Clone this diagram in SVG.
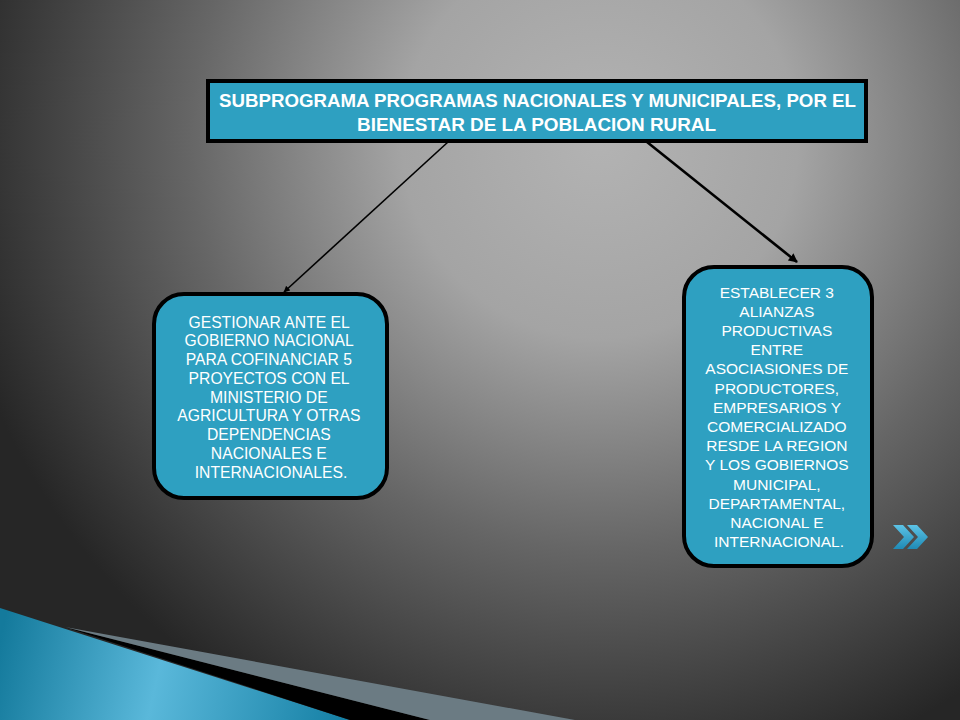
<svg xmlns="http://www.w3.org/2000/svg" width="960" height="720" viewBox="0 0 960 720">
<defs>
<radialGradient id="bg" gradientUnits="userSpaceOnUse" cx="600" cy="140" r="660">
<stop offset="0" stop-color="#b3b3b3"/>
<stop offset="0.3" stop-color="#a4a4a4"/>
<stop offset="0.62" stop-color="#666666"/>
<stop offset="1" stop-color="#262626"/>
</radialGradient>
<linearGradient id="blue" gradientUnits="userSpaceOnUse" x1="0" y1="640" x2="350" y2="720">
<stop offset="0" stop-color="#147a9c"/>
<stop offset="0.45" stop-color="#5ab8da"/>
<stop offset="1" stop-color="#137ea3"/>
</linearGradient>
<linearGradient id="chev" x1="0" y1="0" x2="0" y2="1">
<stop offset="0" stop-color="#5cc3e6"/>
<stop offset="1" stop-color="#1f8ab5"/>
</linearGradient>
<marker id="ah" viewBox="0 0 10 10" refX="9" refY="5" markerWidth="4" markerHeight="4" orient="auto" markerUnits="strokeWidth">
<path d="M0,0 L10,5 L0,10 z" fill="#000"/>
</marker>
<marker id="ah2" viewBox="0 0 10 10" refX="9" refY="5" markerWidth="3.5" markerHeight="3.5" orient="auto" markerUnits="strokeWidth">
<path d="M0,0 L10,5 L0,10 z" fill="#000"/>
</marker>
</defs>
<style>
.box{fill:#2ea0c1;stroke:#000;stroke-width:4}
.t{font-family:"Liberation Sans",Arial,sans-serif;fill:#fff;text-anchor:middle}
.tb{font-weight:bold;font-size:18px}
.ts{font-size:15.7px}
.tr{font-size:15.5px}
.conn{stroke:#000;fill:none}
</style>
<rect width="960" height="720" fill="url(#bg)"/>
<g id="decor">
<polygon points="0,608 350,720 0,720" fill="url(#blue)"/>
<polygon points="65,627 430,720 350,720" fill="#000"/>
<polygon points="65,627 575,720 430,720" fill="#6b7b83"/>
<polygon points="893,525 903,525 914,537 903,549 893,549 904,537" fill="url(#chev)"/>
<polygon points="907,525 917,525 928,537 917,549 907,549 918,537" fill="url(#chev)"/>
</g>
<g id="connectors">
<line class="conn" x1="448" y1="142" x2="284" y2="292" stroke-width="1.6" marker-end="url(#ah)"/>
<line class="conn" x1="647" y1="142" x2="797" y2="262" stroke-width="2.6" marker-end="url(#ah2)"/>
</g>
<g id="top">
<rect class="box" x="208" y="81" width="658" height="60"/>
<text class="t tb" x="537.5" y="107" textLength="637" lengthAdjust="spacingAndGlyphs">SUBPROGRAMA PROGRAMAS NACIONALES Y MUNICIPALES, POR EL</text>
<text class="t tb" x="536.5" y="131" textLength="359" lengthAdjust="spacingAndGlyphs">BIENESTAR DE LA POBLACION RURAL</text>
</g>
<g id="left">
<rect class="box" x="154" y="294" width="233" height="204" rx="30" ry="30"/>
<text class="t ts">
<tspan x="271" y="327.5">GESTIONAR ANTE EL</tspan>
<tspan x="271" y="346.2">GOBIERNO NACIONAL</tspan>
<tspan x="271" y="365">PARA COFINANCIAR 5</tspan>
<tspan x="271" y="383.7">PROYECTOS CON EL</tspan>
<tspan x="271" y="402.5">MINISTERIO DE</tspan>
<tspan x="271" y="421.2">AGRICULTURA Y OTRAS</tspan>
<tspan x="271" y="440">DEPENDENCIAS</tspan>
<tspan x="271" y="458.7">NACIONALES E</tspan>
<tspan x="271" y="477.5">INTERNACIONALES.</tspan>
</text>
</g>
<g id="right">
<rect class="box" x="684" y="267" width="188" height="299" rx="30" ry="30"/>
<text class="t tr">
<tspan x="779" y="297.5">ESTABLECER 3</tspan>
<tspan x="779" y="316.7">ALIANZAS</tspan>
<tspan x="779" y="335.9">PRODUCTIVAS</tspan>
<tspan x="779" y="355.1">ENTRE</tspan>
<tspan x="779" y="374.3">ASOCIASIONES DE</tspan>
<tspan x="779" y="393.5">PRODUCTORES,</tspan>
<tspan x="779" y="412.7">EMPRESARIOS  Y</tspan>
<tspan x="779" y="431.9">COMERCIALIZADO</tspan>
<tspan x="779" y="451.1">RESDE LA REGION</tspan>
<tspan x="779" y="470.3">Y LOS GOBIERNOS</tspan>
<tspan x="779" y="489.5">MUNICIPAL,</tspan>
<tspan x="779" y="508.7">DEPARTAMENTAL,</tspan>
<tspan x="779" y="527.9">NACIONAL E</tspan>
<tspan x="779" y="547.1">INTERNACIONAL.</tspan>
</text>
</g>
</svg>
